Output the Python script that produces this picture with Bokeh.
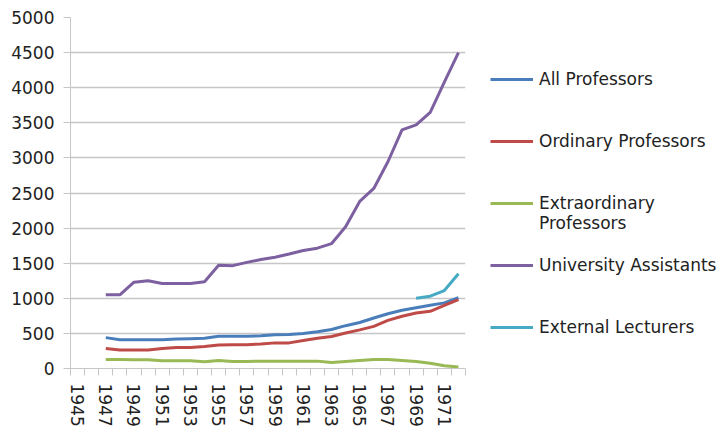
from bokeh.plotting import figure
from bokeh.models import FixedTicker, Legend, LegendItem, Range1d, ColumnDataSource
from bokeh.embed import file_html
from bokeh.resources import INLINE

# Staff counts per year
years = list(range(1947, 1973))
all_professors = [440, 410, 410, 410, 410, 420, 425, 430, 460, 460, 460, 465, 480,
                  485, 500, 525, 555, 610, 655, 720, 780, 830, 865, 900, 935, 1010]
ordinary_professors = [285, 265, 265, 265, 285, 300, 300, 315, 335, 340, 340, 350, 365,
                       365, 400, 430, 455, 505, 550, 600, 685, 745, 790, 815, 900, 980]
extraordinary_professors = [128, 128, 125, 125, 110, 110, 110, 95, 115, 100, 100, 105, 105,
                            105, 105, 105, 85, 100, 115, 128, 128, 115, 100, 75, 40, 20]
university_assistants = [1050, 1050, 1230, 1250, 1210, 1210, 1210, 1235, 1470, 1465, 1512, 1552, 1585,
                         1630, 1680, 1714, 1778, 2020, 2380, 2565, 2945, 3400, 3470, 3650, 4080, 4500]
lecturer_years = [1969, 1970, 1971, 1972]
external_lecturers = [1000, 1030, 1110, 1350]

axis_years = list(range(1945, 1973))
label_years = list(range(1945, 1972, 2))
y_ticks = list(range(0, 5001, 500))

FONT = "DejaVu Sans"
GREY = "#c6c6c6"
TEXT = "#222222"

p = figure(frame_width=395, frame_height=351,
           x_range=Range1d(1944.5, 1972.5), y_range=Range1d(0, 5000),
           output_backend="svg", toolbar_location=None,
           min_border_left=70, min_border_top=17, min_border_bottom=40, min_border_right=0)
p.outline_line_color = None
p.background_fill_color = "white"

src = ColumnDataSource(dict(year=years, allp=all_professors, ordp=ordinary_professors,
                            extp=extraordinary_professors, asst=university_assistants))
lec = ColumnDataSource(dict(year=lecturer_years, lect=external_lecturers))

lw = 3
r_all = p.line("year", "allp", source=src, line_color="#4a7ebb", line_width=lw)
r_ord = p.line("year", "ordp", source=src, line_color="#be4b48", line_width=lw)
r_ext = p.line("year", "extp", source=src, line_color="#98b954", line_width=lw)
r_ast = p.line("year", "asst", source=src, line_color="#7d60a0", line_width=lw)
r_lec = p.line("year", "lect", source=lec, line_color="#46aac5", line_width=lw)

# y axis
p.yaxis.ticker = FixedTicker(ticks=y_ticks)
p.yaxis.axis_line_color = GREY
p.yaxis.major_tick_line_color = GREY
p.yaxis.major_tick_out = 7
p.yaxis.major_tick_in = 0
p.yaxis.minor_tick_line_color = None
p.yaxis.major_label_standoff = 9
p.yaxis.major_label_text_font = FONT
p.yaxis.major_label_text_font_size = "17px"
p.yaxis.major_label_text_color = TEXT

# x axis: labels on every other year, tick marks between years
p.xaxis.ticker = FixedTicker(ticks=label_years, minor_ticks=[y - 0.5 for y in axis_years] + [1972.5])
p.xaxis.axis_line_color = GREY
p.xaxis.major_tick_line_color = None
p.xaxis.major_tick_out = 7
p.xaxis.major_tick_in = 0
p.xaxis.minor_tick_line_color = GREY
p.xaxis.minor_tick_out = 7
p.xaxis.minor_tick_in = 0
p.xaxis.major_label_orientation = "vertical"
p.xaxis.major_label_standoff = 8
p.xaxis.major_label_text_font = FONT
p.xaxis.major_label_text_font_size = "17px"
p.xaxis.major_label_text_color = TEXT

p.xgrid.grid_line_color = None
p.ygrid.grid_line_color = GREY
p.ygrid.grid_line_width = 1.5

# the leading blank line keeps the swatch level with "Extraordinary"
legend = Legend(items=[
    LegendItem(label="All Professors", renderers=[r_all]),
    LegendItem(label="Ordinary Professors", renderers=[r_ord]),
    LegendItem(label="\nExtraordinary\nProfessors", renderers=[r_ext]),
    LegendItem(label="University Assistants", renderers=[r_ast]),
    LegendItem(label="External Lecturers", renderers=[r_lec]),
], location=(25, 10))
legend.border_line_color = None
legend.background_fill_alpha = 0
legend.padding = 0
legend.margin = 0
legend.glyph_width = 43
legend.label_standoff = 6
legend.label_height = 62
legend.glyph_height = 62
legend.spacing = 0
legend.label_text_font = FONT
legend.label_text_font_size = "17px"
legend.label_text_color = TEXT
p.add_layout(legend, "right")

open("out.html", "w").write(file_html(p, INLINE))
